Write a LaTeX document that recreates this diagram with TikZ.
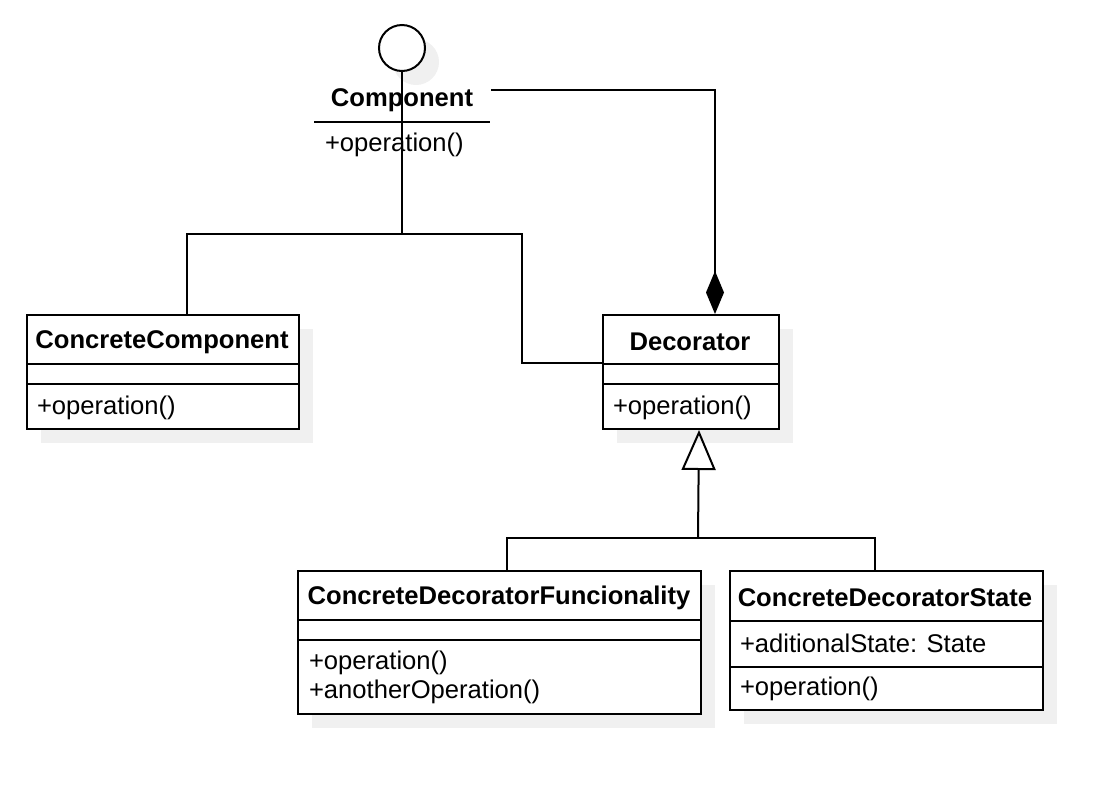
\documentclass[tikz,border=0pt]{standalone}
\usepackage{fontspec}
\setmainfont{Liberation Sans}
\usetikzlibrary{arrows.meta,calc,shadows}
\definecolor{shd}{RGB}{240,240,240}
\begin{document}
\begin{tikzpicture}[x=0.5pt,y=-0.5pt,line width=1pt,
  every node/.style={font=\fontsize{12.8}{15}\selectfont},
  cls/.style={draw,fill=white,inner sep=0pt,anchor=north west,
    drop shadow={shadow xshift=7pt,shadow yshift=-7pt,fill=shd,opacity=1}},
  ttl/.style={inner sep=0pt,font=\fontsize{12.8}{15}\selectfont\bfseries},
  mem/.style={inner sep=0pt,anchor=west},
  inh/.style={-{Triangle[open,length=20pt,width=17pt]}},
  comp/.style={-{Diamond[length=21.5pt,width=9pt,fill=black]}}]
\useasboundingbox (0,0) rectangle (1114,788);

% interface Component
\node[circle,draw,fill=white,minimum size=23pt,inner sep=0pt,
  drop shadow={shadow xshift=7pt,shadow yshift=-7pt,fill=shd,opacity=1}] (ic) at (402,48) {};
\node[ttl,minimum width=88pt] (cname) at (402,100) {Component};
\draw (314,122) -- (490,122);
\node[mem] (cop) at (324,145) {+operation()};

% classes
\node[cls,minimum width=136pt,minimum height=57pt] (cc) at (26,314) {};
\node[cls,minimum width=88pt,minimum height=57pt] (dec) at (602,314) {};
\node[cls,minimum width=201.5pt,minimum height=71.5pt] (cdf) at (297,570) {};
\node[cls,minimum width=156.5pt,minimum height=69.5pt] (cds) at (729,570) {};

% dividers
\draw ($(cc.north west)+(0,50)$) -- ($(cc.north east)+(0,50)$);
\draw ($(cc.north west)+(0,70)$) -- ($(cc.north east)+(0,70)$);
\draw ($(dec.north west)+(0,50)$) -- ($(dec.north east)+(0,50)$);
\draw ($(dec.north west)+(0,70)$) -- ($(dec.north east)+(0,70)$);
\draw ($(cdf.north west)+(0,50)$) -- ($(cdf.north east)+(0,50)$);
\draw ($(cdf.north west)+(0,70)$) -- ($(cdf.north east)+(0,70)$);
\draw ($(cds.north west)+(0,51)$) -- ($(cds.north east)+(0,51)$);
\draw ($(cds.north west)+(0,97)$) -- ($(cds.north east)+(0,97)$);

% texts
\node[ttl] (cct) at (162,342) {ConcreteComponent};
\node[mem] (ccop) at (36,408) {+operation()};
\node[ttl] (dect) at (690,342) {Decorator};
\node[mem] (decop) at (612,408) {+operation()};
\node[ttl] (cdft) at (499,598) {ConcreteDecoratorFuncionality};
\node[mem] (cdfop1) at (308,663) {+operation()};
\node[mem] (cdfop2) at (308,692) {+anotherOperation()};
\node[ttl] (cdst) at (885,598) {ConcreteDecoratorState};
\node[mem] (cdsat) at (739,643) {+aditionalState: State};
\node[mem] (cdsop) at (739,689) {+operation()};

% realization to Component
\coordinate (j) at (402,234);
\draw (ic.south) -- (j);
\draw (j) -| ($(cc.north)+(24,0)$);
\draw (j) -| ($(dec.west)+(-80,-9)$) -- ($(dec.west)+(0,-9)$);

% composition
\draw[comp] ($(cname.east)+(0,-10)$) -| ($(dec.north)+(24,0)$);

% inheritance
\coordinate (h) at (698,538);
\draw[inh] (h) -- ($(dec.south)+(8,0)$);
\draw (h) -| ($(cdf.north)+(7.5,0)$);
\draw (h) -| ($(cds.north)+(-11.5,0)$);
\end{tikzpicture}
\end{document}
